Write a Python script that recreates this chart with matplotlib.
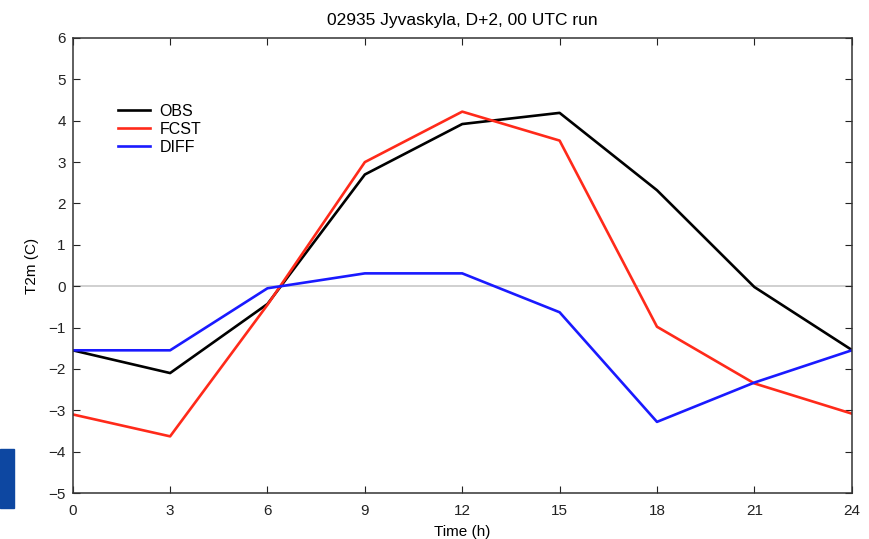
import matplotlib
matplotlib.use('Agg')
import matplotlib.pyplot as plt
import matplotlib.patches as patches

hours = [0, 3, 6, 9, 12, 15, 18, 21, 24]
obs = [-1.55, -2.1, -0.43, 2.7, 3.92, 4.19, 2.32, -0.02, -1.54]
fcst = [-3.1, -3.63, -0.45, 3.0, 4.22, 3.52, -0.98, -2.35, -3.08]
diff = [-1.55, -1.55, -0.05, 0.31, 0.31, -0.63, -3.28, -2.33, -1.55]

plt.rcParams['font.family'] = ['Liberation Sans', 'DejaVu Sans']

fig = plt.figure(figsize=(8.7, 5.39), dpi=100)
ax = fig.add_axes([0.0836, 0.0853, 0.8954, 0.8442])

# blue block at the left edge of the slide
fig.patches.append(patches.Rectangle((0, 1 - 508/539), 14/870, 59/539,
                                     transform=fig.transFigure, color='#0d47a1'))

ax.axhline(0, color='#c8c8c8', linewidth=1.2, zorder=1)
ax.plot(hours, obs, color='black', linewidth=1.9, label='OBS')
ax.plot(hours, fcst, color='#ff2a1a', linewidth=1.9, label='FCST')
ax.plot(hours, diff, color='#1a1aff', linewidth=1.9, label='DIFF')

ax.set_xlim(0, 24)
ax.set_ylim(-5, 6)
ax.set_xticks(hours)
ax.set_yticks(range(-5, 7))
ax.set_yticklabels([str(v).replace('-', '\u2212') for v in range(-5, 7)])
ax.tick_params(direction='in', top=True, right=True, length=5, labelsize=11, colors='#222222')
ax.tick_params(axis='x', pad=8)
ax.tick_params(axis='y', pad=5)
for s in ax.spines.values():
    s.set_linewidth(1.1)
    s.set_color('#333333')

ax.set_title('02935 Jyvaskyla, D+2, 00 UTC run', fontsize=12.5, pad=9)
ax.set_xlabel('Time (h)', fontsize=11, labelpad=5)
ax.set_ylabel('T2m (C)', fontsize=11, labelpad=7)

ax.legend(loc='upper left', bbox_to_anchor=(0.05, 0.87), frameon=False,
          fontsize=11.5, handlelength=2.0, handletextpad=0.6, labelspacing=0.2,
          borderaxespad=0)

fig.savefig('out.png', dpi=100)
